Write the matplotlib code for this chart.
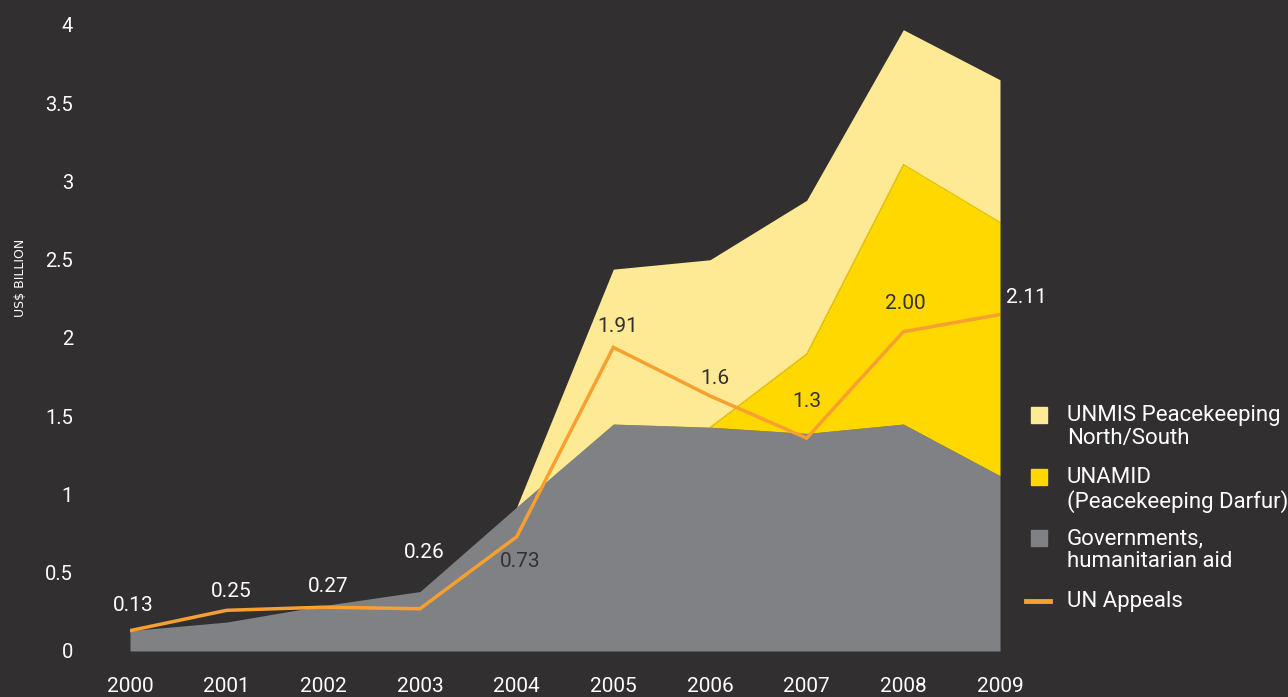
import numpy as np
import matplotlib.pyplot as plt
from matplotlib.patches import Rectangle
from matplotlib.lines import Line2D

years = [2000, 2001, 2002, 2003, 2004, 2005, 2006, 2007, 2008, 2009]

# stacked areas (US$ billion)
governments = [0.13, 0.185, 0.29, 0.38, 0.92, 1.45, 1.43, 1.39, 1.45, 1.12]
unamid = [0, 0, 0, 0, 0, 0, 0, 0.51, 1.66, 1.62]
unmis = [0, 0, 0, 0, 0, 0.99, 1.07, 0.98, 0.86, 0.91]

# UN Appeals line
un_appeals = [0.13, 0.26, 0.28, 0.27, 0.73, 1.94, 1.63, 1.36, 2.04, 2.15]
appeal_labels = ['0.13', '0.25', '0.27', '0.26', '0.73', '1.91', '1.6', '1.3', '2.00', '2.11']

legend_labels = ['UNMIS Peacekeeping\nNorth/South', 'UNAMID\n(Peacekeeping Darfur)',
                 'Governments,\nhumanitarian aid', 'UN Appeals']

BG = '#312f30'
GREY = '#808184'
LIGHT = '#feea94'
YELLOW = '#ffd800'
ORANGE = '#f7a030'
DARK = '#333132'

plt.rcParams['font.family'] = ['Roboto', 'DejaVu Sans']

W, H = 1288, 697
fig = plt.figure(figsize=(W / 100, H / 100), dpi=100, facecolor=BG)
ax = fig.add_axes([130 / W, (H - 651) / H, 870 / W, 626 / H])
ax.set_facecolor(BG)

x = np.array(years)
g = np.array(governments)
u = np.array(unamid)
m = np.array(unmis)

ax.fill_between(x, 0, g, color=GREY, lw=0, zorder=1)
# UNAMID only from 2006 onwards
sel = x >= 2006
ax.fill_between(x[sel], g[sel], (g + u)[sel], color=YELLOW, lw=0, zorder=2)
sel = x >= 2004
ax.fill_between(x[sel], (g + u)[sel], (g + u + m)[sel], color=LIGHT, lw=0, zorder=1)
ax.plot(x[x >= 2006], (g + u)[x >= 2006], color='#e8c400', lw=0.6, zorder=2)

ax.plot(x, un_appeals, color=ORANGE, lw=2.5, zorder=3, solid_joinstyle='miter')

# label offsets in pixels (layout only)
offsets = [(3, 25), (5, 19), (5, 21), (4, 56), (4, -25), (4, 21), (5, 17), (0, 37), (2, 28), (26, 17)]
label_colors = ['white'] * 4 + [DARK] * 5 + ['white']
for xi, yi, lab, off, c in zip(years, un_appeals, appeal_labels, offsets, label_colors):
    ax.annotate(lab, (xi, yi), xytext=off, textcoords='offset pixels',
                ha='center', va='center', fontsize=15, color=c, zorder=5)

ax.set_xlim(2000, 2009)
ax.set_ylim(0, 4)
ax.set_xticks(years)
ax.set_xticklabels([str(y) for y in years])
ax.set_yticks(np.arange(0, 4.01, 0.5))
ax.set_yticklabels(['0', '0.5', '1', '1.5', '2', '2.5', '3', '3.5', '4'])
ax.tick_params(axis='x', length=0, pad=19, labelsize=15, colors='white')
ax.tick_params(axis='y', length=0, pad=41, labelsize=14.5, colors='white')
for s in ax.spines.values():
    s.set_visible(False)

fig.text(21 / W, 1 - 278 / H, 'US$ BILLION', rotation=90, ha='center', va='center',
         fontsize=9, color='white', family=['Liberation Sans Narrow', 'DejaVu Sans'])

# legend drawn by hand
colors = [LIGHT, YELLOW, GREY]
tops = [407, 469, 530]
for lab, c, t in zip(legend_labels[:3], colors, tops):
    fig.patches.append(Rectangle((1031 / W, 1 - (t + 16) / H), 16 / W, 16 / H,
                                 transform=fig.transFigure, color=c))
    fig.text(1067 / W, 1 - (t - 2) / H, lab, ha='left', va='top', fontsize=16,
             color='white', linespacing=1.12)
fig.lines.append(Line2D([1026 / W, 1050 / W], [1 - 601 / H, 1 - 601 / H],
                        transform=fig.transFigure, color=ORANGE, lw=3.5))
fig.text(1067 / W, 1 - 601 / H, legend_labels[3], ha='left', va='center', fontsize=16,
         color='white')

fig.savefig('out.png', dpi=100, facecolor=BG)
